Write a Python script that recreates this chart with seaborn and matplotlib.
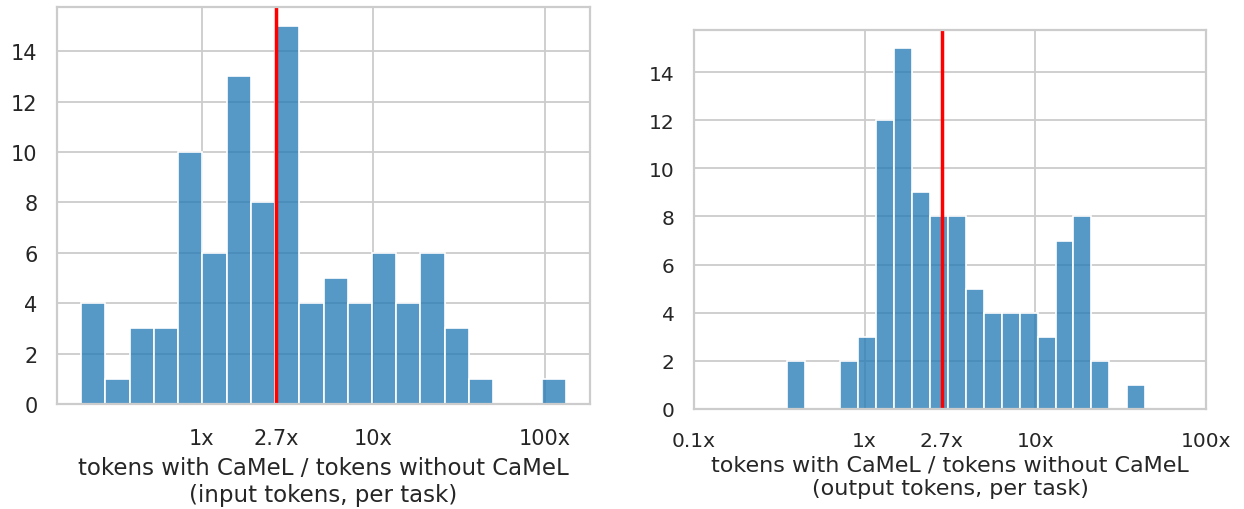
import numpy as np
import matplotlib
matplotlib.use("Agg")
import matplotlib.pyplot as plt
from matplotlib.ticker import NullLocator
import seaborn as sns

# ---- data ----
input_counts = [4, 1, 3, 3, 10, 6, 13, 8, 15, 4, 5, 4, 6, 4, 6, 3, 1, 0, 0, 1]
input_range = (0.199, 131.7)        # outer bin edges (ratio)
input_marker = 2.70                 # red reference line

output_counts = [2, 0, 0, 2, 3, 12, 15, 9, 8, 8, 5, 4, 4, 4, 3, 7, 8, 2, 0, 1]
output_range = (0.349, 44.0)
output_marker = 2.82

input_ticks = [1, input_marker, 10, 100]
input_ticklabels = ["1x", "2.7x", "10x", "100x"]
output_ticks = [0.1, 1, output_marker, 10, 100]
output_ticklabels = ["0.1x", "1x", "2.7x", "10x", "100x"]
output_xlim = (0.1, 100)

xlabel_input = "tokens with CaMeL / tokens without CaMeL\n(input tokens, per task)"
xlabel_output = "tokens with CaMeL / tokens without CaMeL\n(output tokens, per task)"

sns.set_theme(style="whitegrid")
plt.rcParams["font.family"] = ["DejaVu Sans"]
plt.rcParams["axes.edgecolor"] = "#cccccc"
plt.rcParams["axes.linewidth"] = 1.6
plt.rcParams["grid.linewidth"] = 1.3

fig = plt.figure(figsize=(12.44, 5.10), dpi=100)
ax1 = fig.add_axes([57 / 1244, 105 / 510, 533 / 1244, 397 / 510])
ax2 = fig.add_axes([694 / 1244, 100 / 510, 512 / 1244, 379 / 510])


def draw(ax, counts, rng, marker, ticks, labels, xlabel, xlim=None, lpad=6,
         tpad=11, lsize=16.5, tsize=15):
    n = len(counts)
    log_edges = np.linspace(np.log10(rng[0]), np.log10(rng[1]), n + 1)
    centers = 10 ** ((log_edges[:-1] + log_edges[1:]) / 2)
    sns.histplot(x=list(centers), weights=list(counts), bins=list(log_edges),
                 log_scale=True, ax=ax, color="#1f77b4", alpha=0.75,
                 edgecolor="white", linewidth=1.2)
    ax.axvline(marker, color="red", linewidth=2.5)
    if xlim is not None:
        ax.set_xlim(*xlim)
    ax.set_xticks(ticks)
    ax.set_xticklabels(labels)
    ax.xaxis.set_minor_locator(NullLocator())
    ax.set_xlabel(xlabel, fontsize=lsize, color="#262626", linespacing=1.25,
                  labelpad=lpad)
    ax.set_ylabel("")
    ax.tick_params(axis="x", labelsize=tsize, colors="#262626", pad=tpad)
    ax.tick_params(axis="y", labelsize=tsize, colors="#262626", pad=8)
    for s in ax.spines.values():
        s.set_visible(True)
        s.set_color("#cccccc")


draw(ax1, input_counts, input_range, input_marker, input_ticks,
     input_ticklabels, xlabel_input, lpad=6, tpad=11)
draw(ax2, output_counts, output_range, output_marker, output_ticks,
     output_ticklabels, xlabel_output, xlim=output_xlim, lpad=3, tpad=10,
     lsize=16, tsize=14.5)

fig.savefig("out.png", dpi=100)
